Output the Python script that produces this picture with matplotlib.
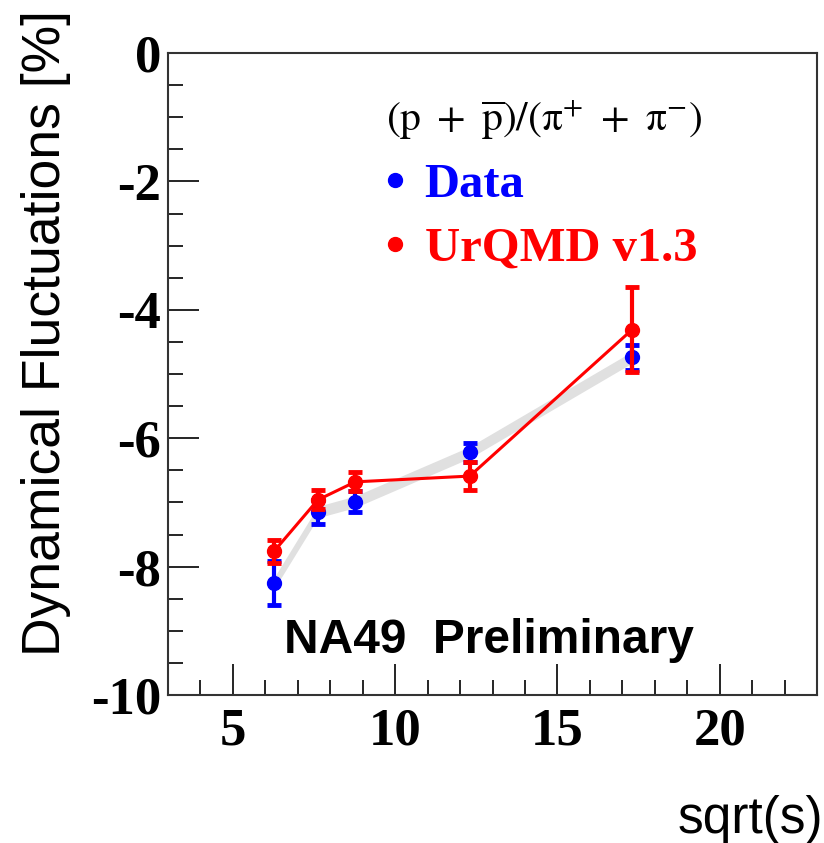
import matplotlib
matplotlib.use("Agg")
import matplotlib.pyplot as plt
from matplotlib.lines import Line2D
from matplotlib.ticker import MultipleLocator
import numpy as np

plt.rcParams['mathtext.fontset'] = 'stix'

# Data
sqrt_s = [6.27, 7.62, 8.77, 12.3, 17.3]
data_vals = [-8.26, -7.15, -6.99, -6.22, -4.74]
data_errs = [0.34, 0.18, 0.16, 0.15, 0.19]
urqmd_vals = [-7.76, -6.96, -6.68, -6.59, -4.31]
urqmd_errs = [0.18, 0.15, 0.15, 0.22, 0.66]
band_halfwidth = 0.09

xticks = [5, 10, 15, 20]
yticks = [0, -2, -4, -6, -8, -10]

fig = plt.figure(figsize=(8.24, 8.43), dpi=100)
ax = fig.add_axes([168/824, 1-695/843, (817-168)/824, (695-53)/843])

sx = np.array(sqrt_s)
dv = np.array(data_vals)
ax.fill_between(sx, dv - band_halfwidth, dv + band_halfwidth, color='#e0e0e0', lw=0, zorder=1)

ax.errorbar(sqrt_s, data_vals, yerr=data_errs, fmt='o', color='#0000ff', ms=10,
            elinewidth=3, capsize=5, capthick=3.5, zorder=3)
ax.errorbar(sqrt_s, urqmd_vals, yerr=urqmd_errs, fmt='o-', color='#ff0000', ms=10,
            lw=2.2, elinewidth=3, capsize=5, capthick=3.5, zorder=4)

ax.set_xlim(3, 23)
ax.set_ylim(-10, 0)
ax.set_xticks(xticks)
ax.set_yticks(yticks)
ax.set_xticklabels([str(t) for t in xticks])
ax.set_yticklabels([str(t) for t in yticks])
ax.xaxis.set_minor_locator(MultipleLocator(1))
ax.yaxis.set_minor_locator(MultipleLocator(0.5))
ax.tick_params(which='major', direction='in', length=22, width=1.2, top=False, right=False)
ax.tick_params(which='minor', direction='in', length=11, width=1.2, top=False, right=False)
ax.tick_params(axis='x', pad=9)
ax.tick_params(axis='y', pad=5)
for lab in ax.get_xticklabels() + ax.get_yticklabels():
    lab.set_fontfamily('Liberation Serif')
    lab.set_fontweight('bold')
    lab.set_fontsize(38)
for s in ax.spines.values():
    s.set_linewidth(1.5)
    s.set_color('#333333')

fig.text(46/824, 1-333/843, 'Dynamical Fluctuations [%]', rotation=90, ha='center', va='center',
         fontsize=38.5, family='Liberation Sans')
fig.text(823/824, 1-820/843, 'sqrt(s)', ha='right', va='center', fontsize=37,
         family='Liberation Sans')

ax.text(0.495, 0.065, 'NA49  Preliminary', transform=ax.transAxes, ha='center', va='baseline',
        fontsize=34.5, fontweight='bold', family='Liberation Sans')

handles = [Line2D([], [], marker='o', ls='none', color='#0000ff', ms=10),
           Line2D([], [], marker='o', ls='none', color='#ff0000', ms=10)]
leg = ax.legend(handles, ['Data', 'UrQMD v1.3'], loc='upper left', bbox_to_anchor=(0.298, 0.969),
                frameon=False,
                title=r'$(\mathrm{p}\ +\ \overline{\mathrm{p}})/(\mathrm{\pi}^{+}\ +\ \mathrm{\pi}^{-})$',
                prop={'family': 'Liberation Serif', 'weight': 'bold', 'size': 35},
                labelcolor=['#0000ff', '#ff0000'], handlelength=0.4, handletextpad=0.4,
                labelspacing=0.42, borderpad=0)
leg.get_title().set_fontsize(30)
leg._legend_box.align = 'left'

fig.savefig('out.png', dpi=100)
